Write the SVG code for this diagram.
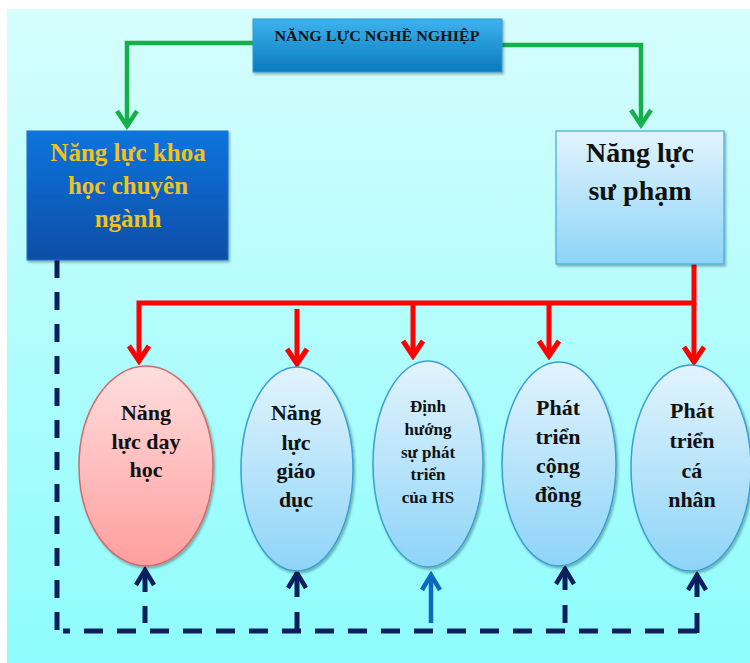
<svg xmlns="http://www.w3.org/2000/svg" width="750" height="663" viewBox="0 0 750 663">
<defs>
<linearGradient id="bg" x1="0" y1="0" x2="0" y2="1"><stop offset="0" stop-color="#d6fdfd"/><stop offset="1" stop-color="#8efcfc"/></linearGradient>
<linearGradient id="gTop" x1="0" y1="0" x2="0" y2="1"><stop offset="0" stop-color="#3cb4ee"/><stop offset="1" stop-color="#0a79bd"/></linearGradient>
<linearGradient id="gLeft" x1="0" y1="0" x2="0" y2="1"><stop offset="0" stop-color="#0a74de"/><stop offset="1" stop-color="#0a4ea6"/></linearGradient>
<linearGradient id="gLight" x1="0" y1="0" x2="0" y2="1"><stop offset="0" stop-color="#e2f4fd"/><stop offset="1" stop-color="#8ed4f8"/></linearGradient>
<linearGradient id="gPink" x1="0" y1="0" x2="0" y2="1"><stop offset="0" stop-color="#ffdede"/><stop offset="1" stop-color="#ff9e9e"/></linearGradient>
<filter id="sh" x="-10%" y="-10%" width="125%" height="125%"><feDropShadow dx="1.5" dy="2" stdDeviation="1.2" flood-color="#000" flood-opacity="0.3"/></filter>
<marker id="mGreen" markerUnits="userSpaceOnUse" viewBox="-20 -14 24 28" markerWidth="24" markerHeight="28" refX="0" refY="0" orient="auto"><path d="M-15,-10 L0,0 L-15,10" fill="none" stroke="#15b04a" stroke-width="4.5"/></marker>
<marker id="mRed" markerUnits="userSpaceOnUse" viewBox="-20 -14 24 28" markerWidth="24" markerHeight="28" refX="0" refY="0" orient="auto"><path d="M-15,-10 L0,0 L-15,10" fill="none" stroke="#ff0000" stroke-width="5"/></marker>
<marker id="mNavy" markerUnits="userSpaceOnUse" viewBox="-20 -14 24 28" markerWidth="24" markerHeight="28" refX="0" refY="0" orient="auto"><path d="M-15,-9 L0,0 L-15,9" fill="none" stroke="#0b1f5e" stroke-width="4.5"/></marker>
<marker id="mBlue" markerUnits="userSpaceOnUse" viewBox="-20 -14 24 28" markerWidth="24" markerHeight="28" refX="0" refY="0" orient="auto"><path d="M-15,-9 L0,0 L-15,9" fill="none" stroke="#0e68bf" stroke-width="4.5"/></marker>
</defs>
<style>
text{font-family:"Liberation Serif","Times New Roman",serif;font-weight:bold;text-anchor:middle;fill:#111}
.gold{fill:#f2c21c}
.ell{fill:url(#gLight);stroke:#3a9fd2;stroke-width:1.5}
.green{fill:none;stroke:#15b04a;stroke-width:4.5}
.red{fill:none;stroke:#ff0000;stroke-width:5}
.navy{fill:none;stroke:#0b1f5e;stroke-width:5}
.dash{stroke-dasharray:18 14}
</style>
<rect x="7" y="9" width="743" height="654" fill="url(#bg)"/>

<g id="connectors">
<path class="green" d="M253,43 H127 V126" marker-end="url(#mGreen)"/>
<path class="green" d="M502,45 H641 V125" marker-end="url(#mGreen)"/>
<path class="red" d="M694,264 V303 H139 V361" marker-end="url(#mRed)"/>
<path class="red" d="M297,309 V364" marker-end="url(#mRed)"/>
<path class="red" d="M413,303 V356" marker-end="url(#mRed)"/>
<path class="red" d="M549,303 V356" marker-end="url(#mRed)"/>
<path class="red" d="M694,303 V362" marker-end="url(#mRed)"/>
<path class="navy dash" d="M57,260 V631"/>
<path class="navy" d="M697,631 H63" stroke-dasharray="19 14"/>
<path class="navy" d="M697,633 V613"/>
<path class="navy" d="M145,623 V606"/>
<path class="navy" d="M145,592 V570" marker-end="url(#mNavy)"/>
<path class="navy" d="M297,631 V612"/>
<path class="navy" d="M297,597 V573" marker-end="url(#mNavy)"/>
<path fill="none" stroke="#0e68bf" stroke-width="4.5" d="M431,623 V575" marker-end="url(#mBlue)"/>
<path class="navy" d="M565,623 V605"/>
<path class="navy" d="M565,590 V569" marker-end="url(#mNavy)"/>
<path class="navy" d="M697,597 V575" marker-end="url(#mNavy)"/>
</g>

<g id="nghe-nghiep">
<rect x="253" y="19" width="249" height="53" fill="url(#gTop)" stroke="#2a9ad8" stroke-width="1" filter="url(#sh)"/>
<text x="377" y="41" font-size="15" textLength="205" lengthAdjust="spacingAndGlyphs">NĂNG LỰC NGHỀ NGHIỆP</text>
</g>

<g id="khoa-hoc">
<rect x="27" y="131" width="201" height="129" fill="url(#gLeft)" stroke="#1a70c8" stroke-width="1" filter="url(#sh)"/>
<text class="gold" x="128" y="161" font-size="25">Năng lực khoa</text>
<text class="gold" x="128" y="194" font-size="25">học chuyên</text>
<text class="gold" x="128" y="227" font-size="25">ngành</text>
</g>

<g id="su-pham">
<rect x="556" y="131" width="168" height="133" fill="url(#gLight)" stroke="#44aadc" stroke-width="1.2" filter="url(#sh)"/>
<text x="640" y="162" font-size="28">Năng lực</text>
<text x="640" y="200" font-size="28">sư phạm</text>
</g>

<g id="day-hoc">
<ellipse cx="146" cy="466" rx="67" ry="100" fill="url(#gPink)" stroke="#d26a6a" stroke-width="1.5" filter="url(#sh)"/>
<text x="146" y="420" font-size="22">Năng</text>
<text x="146" y="449" font-size="22">lực dạy</text>
<text x="146" y="477" font-size="22">học</text>
</g>

<g id="giao-duc">
<ellipse class="ell" cx="297" cy="469" rx="56" ry="102" filter="url(#sh)"/>
<text x="296" y="420" font-size="22">Năng</text>
<text x="296" y="450" font-size="22">lực</text>
<text x="296" y="478" font-size="22">giáo</text>
<text x="296" y="507" font-size="22">dục</text>
</g>

<g id="dinh-huong">
<ellipse class="ell" cx="428" cy="464" rx="55" ry="103" filter="url(#sh)"/>
<text x="428" y="412" font-size="17">Định</text>
<text x="428" y="435" font-size="17">hướng</text>
<text x="428" y="458" font-size="17">sự phát</text>
<text x="428" y="480" font-size="17">triển</text>
<text x="428" y="503" font-size="17">của HS</text>
</g>

<g id="cong-dong">
<ellipse class="ell" cx="559" cy="464" rx="57" ry="102" filter="url(#sh)"/>
<text x="558" y="415" font-size="22">Phát</text>
<text x="558" y="444" font-size="22">triển</text>
<text x="558" y="473" font-size="22">cộng</text>
<text x="558" y="502" font-size="22">đồng</text>
</g>

<g id="ca-nhan">
<ellipse class="ell" cx="691" cy="468" rx="60" ry="103" filter="url(#sh)"/>
<text x="692" y="418" font-size="22">Phát</text>
<text x="692" y="448" font-size="22">triển</text>
<text x="692" y="478" font-size="22">cá</text>
<text x="692" y="507" font-size="22">nhân</text>
</g>
</svg>
